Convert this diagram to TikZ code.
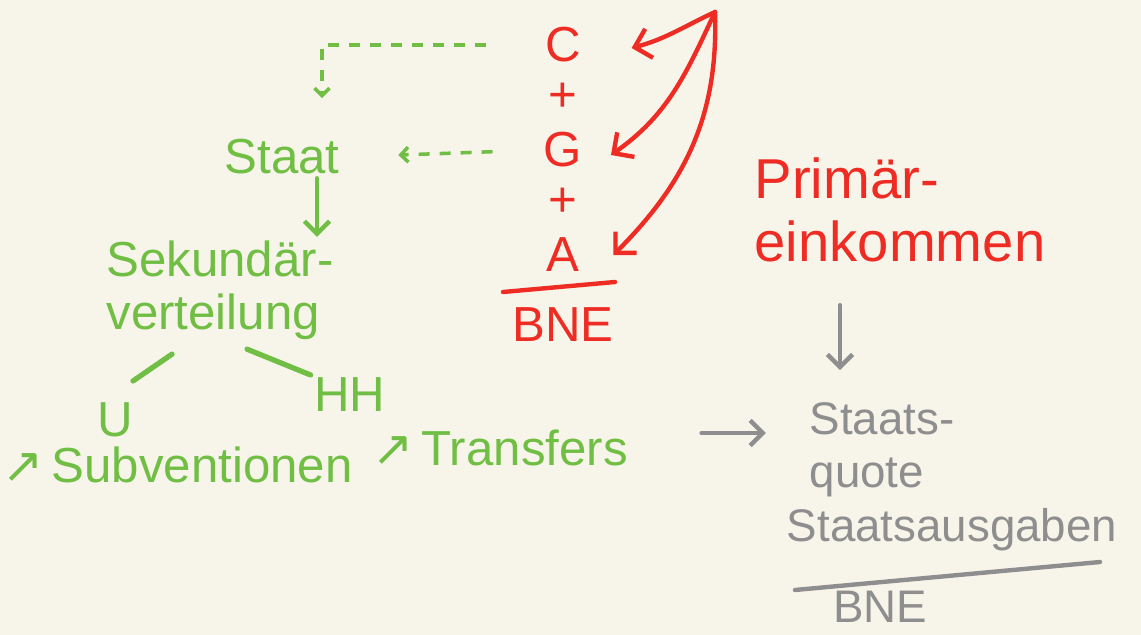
\documentclass[tikz,border=0pt]{standalone}
\usepackage{fontspec}
\setmainfont{Liberation Sans}
\newfontfamily\symfont{DejaVu Sans}
\usetikzlibrary{arrows.meta, positioning, calc}
\definecolor{paper}{RGB}{247,245,234}
\definecolor{penred}{RGB}{238,44,36}
\definecolor{pengreen}{RGB}{112,190,68}
\definecolor{pengrey}{RGB}{142,142,142}
\tikzstyle{redword} = [
  text=penred,
  font=\fontsize{28}{30}\selectfont,
  inner sep=2pt
]
\tikzstyle{greenword} = [
  text=pengreen,
  font=\fontsize{28}{30}\selectfont,
  inner sep=2pt
]
\tikzstyle{greyword} = [
  text=pengrey,
  font=\fontsize{26}{30}\selectfont,
  inner sep=2pt
]
\tikzstyle{redarrow} = [
  line width=2.5pt,
  draw=penred,
  line cap=round,
  ->,
  >={Straight Barb[length=3mm,width=6mm]}
]
\tikzstyle{redline} = [
  line width=2.5pt,
  draw=penred,
  line cap=round
]
\tikzstyle{greendash} = [
  line width=2pt,
  draw=pengreen,
  dash pattern=on 0.22cm off 0.2cm,
  ->,
  >={Straight Barb[length=1.5mm,width=3mm]}
]
\tikzstyle{greenarrow} = [
  line width=2.5pt,
  draw=pengreen,
  line cap=round,
  ->,
  >={Straight Barb[length=2.5mm,width=5mm]}
]
\tikzstyle{greenline} = [
  line width=3pt,
  draw=pengreen,
  line cap=round
]
\tikzstyle{greyarrow} = [
  line width=2.5pt,
  draw=pengrey,
  line cap=round,
  ->,
  >={Straight Barb[length=2.5mm,width=5mm]}
]
\tikzstyle{greyline} = [
  line width=2.5pt,
  draw=pengrey,
  line cap=round
]

\begin{document}
\begin{tikzpicture}[node distance=1.05cm]

    \fill [paper] (0,0) rectangle (22.82,-12.70);
    \useasboundingbox (0,0) rectangle (22.82,-12.70);

    % red: sum and primary income
    \node (c) [redword] at (11.26,-0.9) {C};
    \node (plusa) [redword, below of=c] {+};
    \node (g) [redword, below of=plusa] {G};
    \node (plusb) [redword, below of=g] {+};
    \node (a) [redword, below of=plusb] {A};
    \node (bne) [redword, below of=a, yshift=-0.35cm] {BNE};
    \node (prim) [redword, align=left, font=\fontsize{32}{36}\selectfont] at (18.0,-4.2) {Primär-\\einkommen};
    \coordinate (apex) at (14.3,-0.24);

    % green: state and secondary distribution
    \node (staat) [greenword] at (5.64,-3.14) {Staat};
    \node (sek) [greenword, align=left] at (4.4,-5.8) {Sekundär-\\verteilung};
    \node (u) [greenword] at (2.3,-8.4) {U};
    \node (hh) [greenword] at (7.0,-7.9) {HH};
    \node (subv) [greenword] at (3.55,-9.3) {{\symfont ↗}\,Subventionen};
    \node (trans) [greenword] at (10.0,-8.96) {{\symfont ↗}\,Transfers};

    % grey: state ratio
    \node (quote) [greyword, align=left] at (17.64,-9.0) {Staats-\\quote};
    \node (ausg) [greyword] at (19.04,-10.6) {Staatsausgaben};
    \node (bnez) [greyword] at (17.6,-12.14) {BNE};

    \draw [redline] ($(a)!0.5!(bne)+(-1.2,-0.04)$) -- ($(a)!0.5!(bne)+(1.04,0.16)$);
    \draw [redarrow] (apex) to[out=205, in=15] ([xshift=0.94cm, yshift=-0.06cm]c.east);
    \draw [redarrow] (apex) to[out=-115, in=35] ([xshift=0.5cm, yshift=-0.1cm]g.east);
    \draw [redarrow] (apex) to[out=-88, in=45] ([xshift=0.6cm]a.east);

    \draw [greendash, shorten <=1.1cm, shorten >=0.75cm] (c.west) -| ([xshift=0.8cm]staat.north);
    \draw [greendash, shorten <=0.95cm, shorten >=1.1cm] (g.west) -- (staat.east);
    \draw [greenarrow] ([xshift=0.7cm]staat.south) -- ([xshift=0.7cm]staat.south |- sek.north);
    \draw [greenline] ([shift={(-0.96,-0.22)}]sek.south) -- ([shift={(0.36,0.36)}]u.north);
    \draw [greenline] ([shift={(0.54,-0.12)}]sek.south) -- ([yshift=0.4cm]hh.west);

    \draw [greyarrow, shorten <=1.4cm, shorten >=0.8cm] ([yshift=0.3cm]trans.east) -- ([yshift=0.3cm]trans.east -| quote.west);
    \draw [greyarrow, shorten <=0.78cm, shorten >=0.58cm] ([xshift=-1.2cm]prim.south) -- ([xshift=-1.2cm]prim.south |- quote.north);
    \draw [greyline] ($(ausg)!0.5!(bnez)+(-2.42,-0.43)$) -- ($(ausg)!0.5!(bnez)+(3.68,0.13)$);

\end{tikzpicture}
\end{document}
